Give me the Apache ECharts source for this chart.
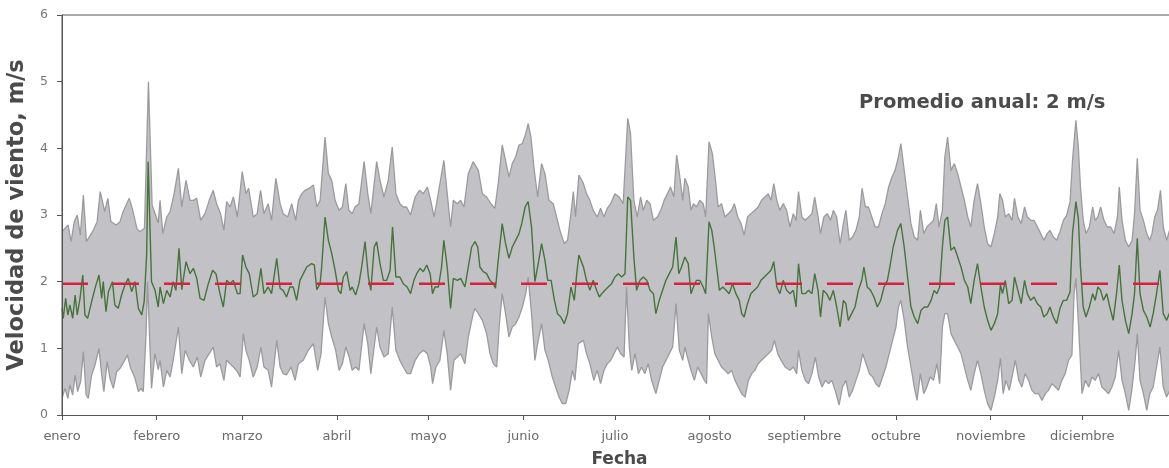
<!DOCTYPE html>
<html>
<head>
<meta charset="utf-8">
<script src="https://cdn.jsdelivr.net/npm/echarts@6/dist/echarts.min.js"></script>
<style>
  html, body { margin: 0; padding: 0; background: #fff; }
  #echarts-wind-graph { width: 1169px; height: 468px; }
</style>
</head>
<body>
<div id="echarts-wind-graph"></div>
<script>
// day of year where each month starts, and its label
const monthStarts = [0, 31, 59, 90, 120, 151, 181, 212, 243, 273, 304, 334];
const monthNames = ['enero', 'febrero', 'marzo', 'abril', 'mayo', 'junio', 'julio',
    'agosto', 'septiembre', 'octubre', 'noviembre', 'diciembre'];

const annualMean = 1.97;

// [day, m/s] daily maximum
const maxima = [
    [0,2.75],[2,2.85],[3,2.6],[4,2.9],[5,3.0],[6,2.7],[7,3.3],[8,2.6],[10,2.75],[11.5,2.9],[12.5,3.35],[14,3.05],[15,3.25],[16,2.9],[17.7,2.85],[19,2.9],[20,3.05],[22,3.25],[23,3.1],[24.5,2.8],[25.5,2.75],[27,2.8],[28.3,5.0],[29.5,3.15],[31.5,2.88],
    [32.1,3.22],[33,2.72],[34.3,2.97],[35.4,3.05],[36.7,3.32],[38.1,3.7],[39.2,3.12],[40.6,3.52],[41.9,3.22],[43,3.22],[44.1,3.25],[45.4,2.92],[46.8,3.02],[48.2,3.22],[49.5,3.37],[50.6,3.17],[51.9,3.02],[53,2.77],[53.9,3.2],[55,3.12],[56.1,3.27],[57.4,2.97],[59,3.65],[60.2,3.32],[61.1,3.4],[62.6,2.97],[63.9,3.02],[65,3.37],[66.1,3.02],
    [67.5,3.17],[68.6,2.92],[70,3.55],[71.4,3.17],[72.4,3.02],[73.9,2.97],[75.2,3.17],[76.5,2.92],[77.4,3.22],[78.5,3.32],[79.5,3.37],[80.9,3.4],[82.3,3.45],[83.4,3.12],[84.5,3.22],[86.1,4.17],[87.2,3.62],[88.3,3.52],[89.4,3.22],[90.7,3.07],[91.8,3.12],[92.9,3.47],[93.9,3.07],[95,3.02],[95.9,3.12],[97.2,3.17],[98.9,3.8],[100.1,3.32],[101.1,3.02],
    [103,3.8],[104.1,3.52],[105.4,3.27],[106.8,3.52],[108.1,4.02],[109.3,3.32],[110.6,3.17],[111.7,3.12],[112.8,3.12],[114.1,3.0],[115.6,3.27],[117,3.37],[118.3,3.32],[119.6,3.42],[120.7,3.22],[121.8,2.97],[122.6,3.17],[123.9,3.52],[125,3.82],[126.1,3.32],[127.2,2.82],[128.1,3.22],[129.4,3.17],[130.5,3.22],[131.6,3.12],[133,3.62],[134.6,3.8],
    [135.2,3.77],[136.3,3.67],[137.6,3.32],[139,3.27],[140.4,3.17],[141.7,3.1],[142.8,3.47],[144.1,4.05],[145.2,3.82],[146.3,3.57],[147.4,3.77],[148.5,3.87],[149.6,4.05],[150.7,4.07],[151.8,4.22],[152.6,4.37],[153.5,4.17],[154.6,3.67],[155.7,3.27],[157,3.77],[158.1,3.62],[159.4,3.22],[160.8,3.17],[161.9,2.97],[163,2.77],[164.4,2.57],[165.5,2.62],[166.6,3.02],[167.4,3.35],[168.1,2.97],[169.2,3.6],
    [170.7,3.47],[171.7,3.32],[172.8,3.22],[173.9,3.07],[175.2,2.97],[176.3,3.1],[177.4,2.97],[178.5,3.1],[179.6,3.17],[181,3.32],[182.4,3.27],[183.7,3.17],[185.2,4.45],[186.1,4.22],[187.2,3.22],[188.3,2.97],[189.4,3.27],[190.3,3.07],[191.4,3.22],[192.5,3.17],[193.6,2.92],[194.9,2.97],[196,3.07],[197.1,3.22],[198.2,3.32],[199.2,3.42],[200.3,3.27],[201.2,3.9],[202.1,3.62],[203.2,3.22],
    [203.9,3.55],[205,3.42],[205.9,3.07],[206.7,3.17],[207.7,3.12],[208.8,3.22],[209.9,3.17],[210.7,2.97],[211.8,4.1],[212.9,3.92],[213.8,3.57],[214.8,3.12],[215.9,3.17],[217,2.97],[218.1,3.02],[219.2,3.07],[220.1,3.17],[221.2,2.97],[222.3,2.87],[223.3,2.7],[224.4,2.97],[225.5,3.02],[226.8,3.07],[227.9,3.12],[229,3.22],[230.1,3.27],[231.2,3.32],[232.1,3.22],[233,3.47],[234,3.22],[235,3.07],[236.1,3.17],[237.2,3.07],
    [238.3,2.82],[239.4,3.02],[240.3,2.92],[241.1,3.35],[242.2,2.97],[243.3,2.92],[244.4,2.97],[245.5,3.02],[246.4,3.27],[247.5,2.97],[248.3,2.72],[249.4,2.97],[250.5,3.02],[251.6,2.92],[252.5,3.07],[253.6,2.97],[254.7,2.57],[255.8,2.87],[256.6,3.07],[257.7,2.62],[258.8,2.67],[259.9,2.77],[261,2.97],[261.9,3.4],[263,3.12],[264,3.12],[265.1,2.97],[266.2,2.82],[267.3,2.82],[268.4,3.02],[269.5,3.17],[270.6,3.42],[271.7,3.57],
    [272.7,3.67],[273.8,3.87],[274.6,4.07],[275.7,3.67],[276.8,3.27],[277.9,2.87],[279,2.67],[280.1,2.62],[281,3.07],[282.1,2.72],[283.1,2.82],[284.2,2.87],[285.3,2.92],[286.2,3.17],[287.1,2.82],[288.2,3.07],[289,3.87],[289.9,4.17],[291,3.67],[292.1,3.77],[293.2,3.62],[294.3,3.42],[295.4,3.22],[296.5,2.97],[297.5,2.82],[298.6,3.22],[299.7,3.47],[300.8,3.17],[301.9,2.82],[303,2.57],[304.1,2.52],[305.2,2.72],[306.3,2.97],
    [307,3.32],[307.9,3.22],[308.8,2.97],[309.9,3.02],[311,2.92],[311.8,3.25],[312.9,2.97],[314,2.87],[315.1,3.12],[316,2.97],[317.1,2.92],[318.2,2.92],[319.3,2.82],[320.4,2.72],[321.4,2.62],[322.5,2.72],[323.4,2.77],[324.5,2.67],[325.6,2.62],[326.7,2.75],[327.8,2.92],[328.9,3.0],[330,3.2],
    [330.8,3.82],[331.9,4.42],[332.7,4.02],[333.4,3.42],[334.3,2.92],[335.2,2.72],[336.3,2.82],[337.4,3.12],[338.2,2.92],[339.1,2.97],[340,3.12],[341.1,2.92],[342.2,2.82],[343.3,2.82],[344.4,2.72],[345.5,2.97],[346.1,3.42],[347,2.92],[348.1,2.62],[349.2,2.52],[350.3,2.62],[351.1,3.02],[352,3.85],[352.9,3.07],[354,2.92],[355.1,2.72],[356,2.62],[356.8,2.72],[357.7,2.97],[358.6,3.07],[359.6,3.37],[360.5,2.82],[361.6,2.62],[364,3.0]
];

// [day, m/s] daily mean
const means = [
    [0,1.6],[0.4,1.45],[1.2,1.75],[1.9,1.5],[2.6,1.65],[3.5,1.45],[4.3,1.8],[5,1.5],[5.9,1.75],[6.8,2.1],[7.5,1.5],[8.4,1.45],[9.7,1.7],[10.8,1.9],[12.1,2.1],[13,1.75],[13.5,2.0],[14.4,1.55],[15.2,1.85],[16.5,2.0],[17.3,1.65],[18.4,1.6],[19.5,1.8],[20.6,1.95],[21.7,2.05],[22.8,1.85],[23.9,2.0],[25,1.6],[26.1,1.5],[26.9,1.7],[27.7,2.4],[28.2,3.8],[29.3,2.0],[30.4,1.88],[31.5,1.62],
    [32.1,1.92],[33.2,1.67],[34.3,1.87],[35.4,1.77],[36.4,2.0],[37.3,1.87],[38.3,2.5],[39.2,1.88],[40.6,2.3],[41.9,2.12],[43,2.2],[44.1,2.05],[45.2,1.75],[46.5,1.72],[47.9,1.97],[49.3,2.17],[50.4,2.12],[51.7,1.82],[52.8,1.62],[53.9,2.02],[55,1.97],[56.1,2.02],[57.4,1.82],[58.3,1.82],[59.1,2.4],[60.2,2.22],[61.3,2.12],[62.6,1.77],[63.9,1.82],[65.1,2.2],[66.1,1.82],
    [67.5,1.92],[68.6,1.82],[70.3,2.35],[71.4,1.9],[72.4,1.87],[73.5,1.77],[74.6,1.92],[75.7,1.92],[76.8,1.72],[77.9,2.02],[79,2.12],[80.1,2.22],[81.7,2.27],[82.6,2.25],[83.4,1.88],[84.5,1.97],[85,2.22],[86.1,2.97],[87.2,2.62],[88.3,2.42],[89.4,2.17],[90.5,1.87],[91.3,1.82],[92.1,2.07],[93.2,2.15],[94.3,1.87],[95,1.92],[96.1,1.8],[97.2,1.97],[98.1,2.22],[99.2,2.6],[100.3,2.07],[101.1,1.87],[102.2,2.52],
    [103,2.6],[104.1,2.27],[105.2,2.02],[106.3,2.02],[107.4,2.17],[108.2,2.82],[109.3,2.07],[110.6,2.07],[111.7,1.97],[113,1.92],[114.1,1.82],[115.2,2.02],[116.1,2.12],[117.2,2.2],[118.3,2.15],[119.4,2.25],[120.5,2.12],[121.3,1.82],[122.1,1.92],[123.2,1.92],[124.2,2.2],[125,2.62],[126.1,2.22],[127.2,1.6],[128.1,2.05],[129.4,2.02],[130.5,2.05],[131.9,1.92],[133,2.22],[134.1,2.52],[135.2,2.6],
    [136.1,2.52],[136.8,2.22],[137.9,2.15],[139,2.12],[140.1,2.02],[141.2,1.97],[141.9,1.9],[142.8,2.32],[144.1,2.87],[145.2,2.57],[146.3,2.35],[147.4,2.52],[148.5,2.62],[149.6,2.72],[150.5,2.87],[151.6,3.12],[152.6,3.2],[153.7,2.82],[154.8,2.0],[155.9,2.27],[157,2.57],[158.1,2.32],[159,2.02],[160.1,2.02],[161.2,1.72],[162.2,1.52],[163.3,1.47],[164.4,1.37],[165.5,1.52],[166.6,1.92],[167.7,1.72],[168.5,2.12],[169.2,2.4],
    [170.7,2.22],[171.7,2.02],[172.8,1.87],[173.9,2.02],[175,1.87],[175.9,1.77],[176.7,1.82],[177.7,1.87],[178.8,1.92],[179.9,1.97],[181,2.07],[182.1,2.12],[183.2,2.07],[184.3,2.12],[185.2,3.27],[186.1,3.22],[187.2,2.37],[188.1,1.87],[189.2,2.02],[190.3,2.07],[191.4,2.02],[192.5,1.87],[193.6,1.82],[194.4,1.52],[195.5,1.72],[196.6,1.87],[197.7,2.02],[198.8,2.12],[199.9,2.22],[201,2.67],[201.9,2.12],[202.8,2.22],
    [203.9,2.37],[205,2.27],[205.9,1.82],[206.7,1.92],[207.7,2.02],[208.8,2.02],[209.9,1.92],[210.7,1.82],[211.8,2.9],[212.7,2.77],[213.5,2.52],[214.3,2.22],[215.2,1.87],[216.3,1.92],[217.4,1.87],[218.4,1.82],[219.5,1.97],[220.6,1.82],[221.7,1.72],[222.5,1.52],[223.3,1.47],[224.4,1.67],[225.5,1.82],[226.6,1.87],[227.7,1.92],[228.8,2.02],[229.9,2.07],[231,2.12],[232.1,2.17],[233,2.3],[234,1.92],[235,1.82],[236.1,2.02],[237.2,1.87],
    [238.3,1.82],[239.4,1.87],[240.3,1.62],[241.1,2.27],[242.2,1.82],[243.3,1.82],[244.4,1.87],[245.5,1.82],[246.4,2.12],[247.5,1.87],[248.3,1.47],[249.2,1.87],[250.3,1.82],[251.4,1.72],[252.5,1.87],[253.6,1.62],[254.7,1.32],[255.8,1.72],[256.6,1.67],[257.4,1.42],[258.5,1.52],[259.6,1.62],[260.7,1.87],[261.8,2.02],[262.5,2.22],[263.6,1.92],[264.7,1.87],[265.8,1.77],[266.9,1.62],[268,1.72],[269.1,1.92],[270.2,2.02],[271,2.22],[272.1,2.52],
    [273.5,2.77],[274.6,2.87],[275.7,2.52],[276.8,2.07],[277.9,1.62],[279,1.47],[280.1,1.37],[281.2,1.57],[282.3,1.62],[283.4,1.62],[284.5,1.72],[285.5,1.87],[286.4,1.82],[287.3,1.92],[288.2,2.52],[289,2.92],[289.9,2.97],[291,2.47],[292.1,2.52],[293.2,2.37],[294.3,2.22],[295.4,2.02],[296.5,1.92],[297.5,1.67],[298.6,2.02],[299.7,2.27],[300.8,1.92],[301.9,1.62],[303,1.42],[304.1,1.27],[305.2,1.37],[306.3,1.52],
    [307.2,1.95],[307.9,1.82],[308.8,2.02],[309.9,1.67],[311,1.72],[311.8,2.07],[312.9,1.87],[314,1.67],[315.1,2.02],[316,1.82],[317.1,1.72],[318.2,1.77],[319.3,1.67],[320.4,1.62],[321.4,1.47],[322.5,1.52],[323.4,1.62],[324.5,1.47],[325.6,1.37],[326.7,1.6],[327.8,1.72],[328.9,1.72],[330,1.85],
    [330.8,2.72],[331.9,3.2],[332.7,2.95],[333.4,2.22],[334.3,1.62],[335.2,1.47],[336.3,1.62],[337.4,1.82],[338.2,1.72],[339.1,1.92],[340,1.87],[340.9,1.72],[342,1.82],[343,1.62],[344.1,1.42],[345.2,1.82],[346.1,2.25],[347,1.72],[348.1,1.42],[349.2,1.22],[350.3,1.52],[351.1,1.82],[352,2.65],[352.9,1.82],[354,1.57],[355.1,1.47],[356.2,1.32],[357.2,1.52],[358.3,1.82],[359.4,2.17],[360.5,1.52],[361.6,1.42],[364,1.7]
];

// [day, m/s] daily minimum
const minima = [
    [0,0.25],[1,0.4],[1.9,0.25],[2.6,0.45],[3.5,0.3],[4.3,0.6],[5.1,0.35],[6.1,0.5],[7,0.95],[7.9,0.3],[8.6,0.25],[9.7,0.6],[10.8,0.75],[12.1,1.0],[13,0.6],[13.7,0.35],[14.8,0.8],[15.7,0.55],[16.8,0.4],[17.9,0.65],[19,0.7],[20.3,0.8],[21.4,0.9],[22.5,0.7],[23.9,0.55],[25,0.35],[25.9,0.4],[26.6,0.35],[27.5,1.2],[28,2.0],[29.3,0.4],[30.4,0.92],[31.5,0.68],
    [32.1,0.82],[33.2,0.42],[34.3,0.67],[35.4,0.57],[36.4,0.82],[38.1,1.32],[39.2,0.62],[40.3,0.97],[41.7,0.82],[43,0.72],[44.3,0.87],[45.4,0.57],[46.8,0.82],[48.2,0.92],[49.5,1.02],[50.6,0.72],[51.7,0.77],[53,0.52],[53.9,0.82],[55,0.77],[56.1,0.72],[57.4,0.65],[58.3,0.57],[59.4,1.22],[60.2,0.97],[61.3,0.82],[62.6,0.57],[63.9,0.72],[65.1,1.02],[66.1,0.72],
    [67.5,0.67],[68.6,0.42],[70.3,1.12],[71.4,0.72],[72.4,0.62],[73.5,0.6],[75,0.72],[76.3,0.52],[77.4,0.77],[79,0.82],[80.6,0.97],[82.3,1.07],[83.7,0.67],[84.8,0.92],[86.1,1.77],[87.2,1.37],[88.3,1.17],[89.6,0.97],[90.7,0.67],[91.8,0.77],[92.9,1.02],[94,0.87],[95,0.67],[96.1,0.72],[97.2,0.67],[98.9,1.37],[100.1,1.07],[101.1,0.62],[102.2,1.02],
    [103,1.32],[104.1,1.02],[105.4,0.87],[106.8,0.92],[108.1,1.62],[109.3,0.97],[110.6,0.82],[111.7,0.72],[113,0.62],[114.1,0.62],[115.6,0.82],[117,0.92],[118.3,0.97],[119.6,0.92],[120.7,0.72],[121.3,0.47],[122.4,0.72],[123.7,0.82],[125,1.27],[126.1,0.92],[127.2,0.37],[128.3,0.82],[129.4,0.87],[130.5,0.92],[131.9,0.77],[133,1.17],[134.6,1.52],
    [135.2,1.6],[136.3,1.52],[137.6,1.42],[139,1.22],[140.1,0.92],[141.2,0.77],[142.3,0.72],[143.1,1.32],[144.1,1.82],[145.2,1.52],[146.3,1.17],[147.4,1.32],[148.5,1.37],[149.6,1.47],[150.7,1.62],[151.8,1.82],[152.6,2.07],[153.7,1.52],[154.8,0.82],[155.9,1.12],[157,1.37],[158.1,0.97],[159.2,0.82],[160.5,0.57],[161.6,0.42],[162.7,0.27],[163.8,0.17],[164.9,0.17],[166,0.37],[167.1,0.67],[167.9,0.52],[169,1.07],
    [170.7,1.12],[171.7,0.92],[172.8,0.77],[174.1,0.52],[175.2,0.67],[176.3,0.47],[177.4,0.67],[178.5,0.77],[179.6,0.82],[180.7,0.92],[181.8,1.02],[182.9,0.92],[184,0.87],[184.8,1.92],[185.7,1.02],[186.5,0.67],[187.6,0.92],[188.7,0.62],[189.7,0.72],[190.8,0.62],[191.9,0.77],[193,0.52],[194.4,0.32],[195.5,0.52],[196.6,0.72],[197.7,0.82],[198.8,0.92],[199.9,1.02],[201,1.67],[202.1,0.97],[203.2,0.82],
    [203.9,1.02],[205,0.82],[205.9,0.67],[207,0.52],[208.1,0.72],[209.2,0.62],[210.3,0.52],[211,0.47],[211.6,1.52],[212.7,1.17],[213.7,0.92],[214.8,0.82],[215.9,0.72],[217,0.67],[218.1,0.62],[219.2,0.67],[220.3,0.52],[221.4,0.42],[222.5,0.32],[223.6,0.27],[224.7,0.52],[225.8,0.62],[226.8,0.67],[227.9,0.77],[229,0.82],[230.1,0.87],[231.2,0.92],[232.3,0.97],[233.2,1.12],[234.3,0.92],[235.4,0.82],[236.7,0.72],
    [238.3,0.67],[239.4,0.72],[240.5,0.62],[241.1,0.97],[242.2,0.67],[243.3,0.52],[244.4,0.47],[245.5,0.62],[246.6,0.87],[247.7,0.57],[248.8,0.42],[249.9,0.52],[250.9,0.47],[252,0.52],[253.1,0.37],[254.4,0.15],[255.5,0.42],[256.6,0.52],[257.7,0.27],[258.8,0.37],[259.9,0.52],[261,0.67],[262.1,0.92],[263.2,0.77],[264.3,0.62],[265.4,0.57],[266.4,0.47],[267.5,0.42],[268.6,0.57],[269.7,0.72],[270.8,0.92],[271.9,1.12],[273,1.32],
    [273.8,1.62],[274.6,1.72],[275.7,1.42],[276.8,1.02],[277.9,0.72],[279,0.42],[279.9,0.22],[281,0.62],[282.1,0.32],[283.1,0.42],[284.2,0.57],[285.3,0.52],[286.4,0.77],[287.3,0.47],[288.2,1.32],[289,1.52],[289.9,1.52],[291,1.22],[292.1,1.12],[293.2,1.02],[294.3,0.92],[295.4,0.72],[296.5,0.52],[297.5,0.37],[298.6,0.62],[299.7,0.82],[300.8,0.62],[301.9,0.37],[303,0.17],[304.1,0.07],[305.2,0.27],[306.3,0.52],
    [307.2,0.85],[308.1,0.32],[309,0.52],[310.1,0.37],[311.2,0.62],[312.1,0.82],[313.2,0.52],[314.2,0.42],[315.3,0.62],[316.4,0.52],[317.5,0.37],[318.6,0.32],[319.7,0.32],[320.8,0.22],[321.9,0.32],[322.9,0.37],[324.1,0.47],[325.2,0.42],[326.2,0.37],[327.3,0.52],[328.4,0.62],[329.5,0.82],[330.6,0.9],[331.3,1.82],[331.9,2.05],[332.8,1.32],[333.9,0.32],
    [335,0.52],[336.1,0.42],[337.2,0.57],[338.2,0.52],[339.3,0.62],[340.4,0.42],[341.5,0.37],[342.6,0.32],[343.7,0.42],[344.8,0.57],[345.9,0.97],[347,0.52],[348.1,0.32],[349.2,0.07],[350.2,0.37],[351.3,0.82],[352,1.22],[352.9,0.52],[354,0.32],[355.1,0.07],[356.1,0.32],[357.2,0.42],[358.3,0.72],[359.4,1.02],[360.5,0.42],[361.6,0.27],[364,0.5]
];

const TEXT_COLOR = '#4b4b4d';
const AXIS_COLOR = '#555555';
const BAND_FILL = '#c2c2c6';
const BAND_EDGE = '#9b9b9e';

let echarts_wind_graph = echarts.init(document.getElementById('echarts-wind-graph'));

let echarts_options = {
    animation: false,
    backgroundColor: '#ffffff',
    title: {
        text: 'Promedio anual: 2 m/s',
        left: 854,
        top: 88,
        textStyle: {
            fontFamily: 'DejaVu Sans',
            fontWeight: 'bold',
            fontSize: 19.5,
            color: TEXT_COLOR
        }
    },
    grid: {
        left: 62,
        top: 15,
        width: 1115,
        height: 400,
        outerBoundsMode: 'none',
        containLabel: false,
        show: true,
        borderColor: AXIS_COLOR,
        borderWidth: 1,
        backgroundColor: 'transparent'
    },
    xAxis: {
        type: 'value',
        min: 0,
        max: 365,
        z: 10,
        name: 'Fecha',
        nameLocation: 'middle',
        nameGap: 36,
        nameTextStyle: {
            fontFamily: 'DejaVu Sans',
            fontWeight: 'bold',
            fontSize: 17,
            color: TEXT_COLOR
        },
        axisLine: { lineStyle: { color: AXIS_COLOR, width: 1 } },
        axisTick: {
            customValues: monthStarts,
            length: 5,
            lineStyle: { color: AXIS_COLOR }
        },
        axisLabel: {
            customValues: monthStarts,
            formatter: function (value) {
                return monthNames[monthStarts.indexOf(value)] || '';
            },
            margin: 15,
            fontFamily: 'DejaVu Sans',
            fontSize: 13,
            color: '#6a6a6a'
        },
        splitLine: { show: false }
    },
    yAxis: {
        type: 'value',
        min: 0,
        max: 6,
        interval: 1,
        z: 10,
        name: 'Velocidad de viento, m/s',
        nameLocation: 'middle',
        nameGap: 32,
        nameRotate: 90,
        nameTextStyle: {
            fontFamily: 'DejaVu Sans',
            fontWeight: 'bold',
            fontSize: 22.5,
            color: TEXT_COLOR
        },
        axisLine: { show: true, lineStyle: { color: AXIS_COLOR, width: 1 } },
        axisTick: { show: true, length: 5, lineStyle: { color: AXIS_COLOR } },
        axisLabel: {
            margin: 14,
            fontFamily: 'DejaVu Sans',
            fontSize: 12.5,
            color: '#777777'
        },
        splitLine: { show: false }
    },
    series: [
        {
            name: 'max',
            type: 'line',
            data: maxima,
            symbol: 'none',
            z: 1,
            lineStyle: { color: BAND_EDGE, width: 1.3 },
            areaStyle: { color: BAND_FILL, opacity: 1, origin: 'start' }
        },
        {
            name: 'min',
            type: 'line',
            data: minima,
            symbol: 'none',
            z: 2,
            lineStyle: { color: BAND_EDGE, width: 1.3 },
            areaStyle: { color: '#ffffff', opacity: 1, origin: 'start' }
        },
        {
            name: 'promedio',
            type: 'line',
            data: means,
            symbol: 'none',
            z: 3,
            lineStyle: { color: '#46733a', width: 1.4 }
        },
        {
            name: 'promedio anual',
            type: 'line',
            data: [[0, annualMean], [365, annualMean]],
            symbol: 'none',
            z: 4,
            lineStyle: { color: '#d4213d', width: 2.5, type: [26, 25] }
        }
    ]
};

echarts_wind_graph.setOption(echarts_options);
</script>
</body>
</html>
